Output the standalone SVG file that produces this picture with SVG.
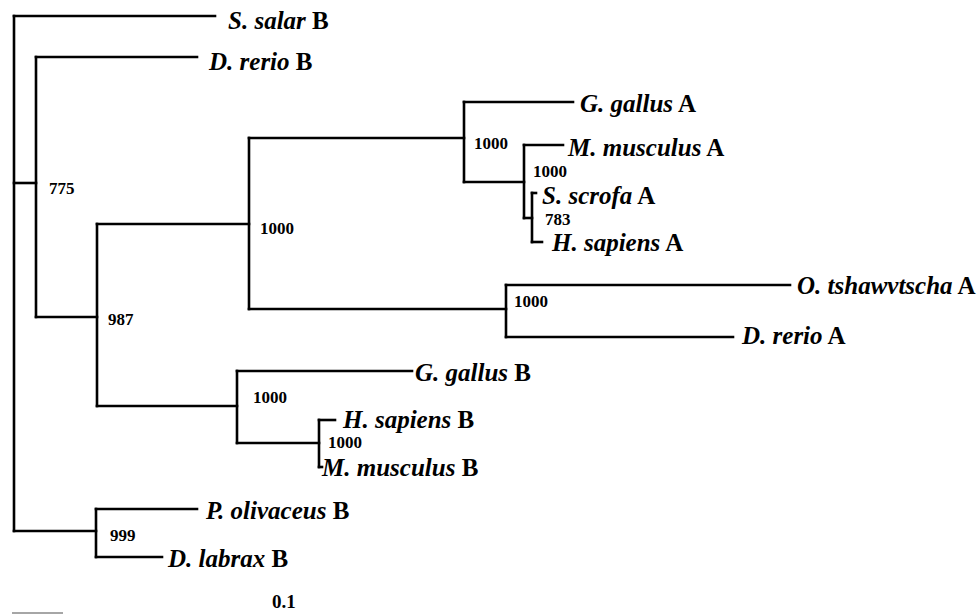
<svg xmlns="http://www.w3.org/2000/svg" width="979" height="615" viewBox="0 0 979 615">
<style>
.e{stroke:#000;stroke-width:2.6;fill:none;stroke-linecap:square}
.sc{stroke:#888;stroke-width:1.5;fill:none}
.t{font-family:"Liberation Serif","Times New Roman",serif;font-size:25px;font-weight:bold;fill:#000}
.i{font-style:italic}
.n{font-family:"Liberation Serif","Times New Roman",serif;font-size:17px;font-weight:bold;fill:#000}
.s{font-size:19px}
</style>
<rect width="979" height="615" fill="#fff"/>
<g id="connectors">
<path class="e" d="M14,16 V531"/>
<path class="e" d="M14,16 H215"/>
<path class="e" d="M14,183 H36"/>
<path class="e" d="M36,57 V317"/>
<path class="e" d="M36,57 H197"/>
<path class="e" d="M36,317 H97"/>
<path class="e" d="M97,224 V406"/>
<path class="e" d="M97,224 H249"/>
<path class="e" d="M249,138 V309"/>
<path class="e" d="M249,138 H464"/>
<path class="e" d="M464,102 V182"/>
<path class="e" d="M464,102 H573"/>
<path class="e" d="M464,182 H524"/>
<path class="e" d="M524,145 V218"/>
<path class="e" d="M524,145 H563"/>
<path class="e" d="M524,218 H532"/>
<path class="e" d="M532,193 V242"/>
<path class="e" d="M532,193 H536"/>
<path class="e" d="M532,242 H542"/>
<path class="e" d="M249,309 H506"/>
<path class="e" d="M506,285 V337"/>
<path class="e" d="M506,285 H790"/>
<path class="e" d="M506,337 H733"/>
<path class="e" d="M97,406 H237"/>
<path class="e" d="M237,371 V443"/>
<path class="e" d="M237,371 H412"/>
<path class="e" d="M237,443 H319"/>
<path class="e" d="M319,420 V467"/>
<path class="e" d="M319,420 H335"/>
<path class="e" d="M319,467 H322"/>
<path class="e" d="M14,531 H96"/>
<path class="e" d="M96,509 V557"/>
<path class="e" d="M96,509 H197"/>
<path class="e" d="M96,557 H162"/>
</g>
<g id="leaf-ssalar-B"><text class="t" x="228" y="29"><tspan class="i">S. salar</tspan> B</text></g>
<g id="leaf-drerio-B"><text class="t" x="209" y="70"><tspan class="i">D. rerio</tspan> B</text></g>
<g id="leaf-ggallus-A"><text class="t" x="580" y="112"><tspan class="i">G. gallus</tspan> A</text></g>
<g id="leaf-mmusculus-A"><text class="t" x="568" y="156"><tspan class="i">M. musculus</tspan> A</text></g>
<g id="leaf-sscrofa-A"><text class="t" x="542" y="204"><tspan class="i">S. scrofa</tspan> A</text></g>
<g id="leaf-hsapiens-A"><text class="t" x="552" y="251"><tspan class="i">H. sapiens</tspan> A</text></g>
<g id="leaf-otshawytscha-A"><text class="t" x="797" y="294"><tspan class="i">O. tshawvtscha</tspan> A</text></g>
<g id="leaf-drerio-A"><text class="t" x="742" y="344"><tspan class="i">D. rerio</tspan> A</text></g>
<g id="leaf-ggallus-B"><text class="t" x="415" y="381"><tspan class="i">G. gallus</tspan> B</text></g>
<g id="leaf-hsapiens-B"><text class="t" x="343" y="428"><tspan class="i">H. sapiens</tspan> B</text></g>
<g id="leaf-mmusculus-B"><text class="t" x="322" y="476"><tspan class="i">M. musculus</tspan> B</text></g>
<g id="leaf-polivaceus-B"><text class="t" x="206" y="519"><tspan class="i">P. olivaceus</tspan> B</text></g>
<g id="leaf-dlabrax-B"><text class="t" x="168" y="567"><tspan class="i">D. labrax</tspan> B</text></g>
<g id="node-775"><text class="n" x="49" y="194">775</text></g>
<g id="node-987"><text class="n" x="108" y="325">987</text></g>
<g id="node-1000-a"><text class="n" x="260" y="234">1000</text></g>
<g id="node-1000-b"><text class="n" x="474" y="149">1000</text></g>
<g id="node-1000-c"><text class="n" x="533" y="177">1000</text></g>
<g id="node-783"><text class="n" x="545" y="225">783</text></g>
<g id="node-1000-d"><text class="n" x="514" y="307">1000</text></g>
<g id="node-1000-e"><text class="n" x="253" y="403">1000</text></g>
<g id="node-1000-f"><text class="n" x="328" y="448">1000</text></g>
<g id="node-999"><text class="n" x="110" y="541">999</text></g>
<g id="scale-bar">
<path class="sc" d="M12,613 H63"/>
<text class="n s" x="272" y="608">0.1</text>
</g>
</svg>
